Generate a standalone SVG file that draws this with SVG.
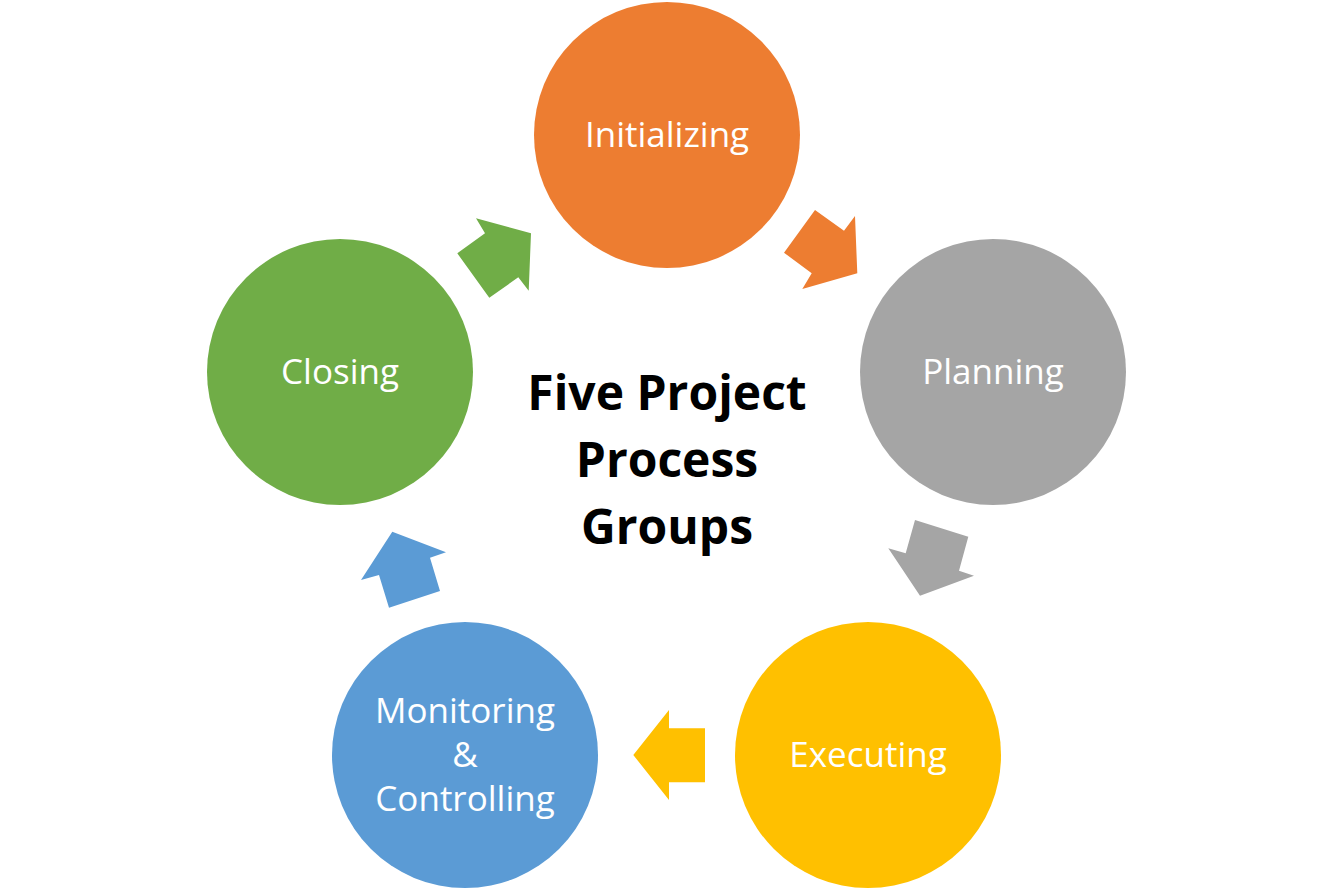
<svg xmlns="http://www.w3.org/2000/svg" width="1334" height="891" viewBox="0 0 1334 891">
<style>
.lbl{font-family:"Open Sans","Liberation Sans",sans-serif;font-size:35px;fill:#fff;text-anchor:middle}
.ttl{font-family:"Open Sans","Liberation Sans",sans-serif;font-size:48px;font-weight:bold;fill:#000;text-anchor:middle}
</style>
<rect width="1334" height="891" fill="#fff"/>
<g id="connectors">
<polygon fill="#ED7D31" points="815,210 844,230.7 855,216 857.3,273.3 802.3,289 811.7,273.3 784,252.7"/>
<polygon fill="#A5A5A5" points="915,520 968.3,536.7 959,570.7 974,575.7 920,595.7 888.3,548.3 905.7,553.3"/>
<polygon fill="#FFC000" points="669,710 669,728.3 705,728.3 705,782.3 669,782.3 669,800 633.3,755"/>
<polygon fill="#5B9BD5" points="392.3,531.7 446,552.3 430,557.7 440,591 389,607.7 379,575 361,580"/>
<polygon fill="#70AD47" points="476,218.3 531,233.3 528.7,290.7 518.3,277.3 489.3,297.7 457.3,253.3 485,233.3"/>
</g>
<g id="initializing">
<circle cx="667" cy="135" r="133" fill="#ED7D31"/>
<text class="lbl" x="667" y="147">Initializing</text>
</g>
<g id="planning">
<circle cx="993" cy="372" r="133" fill="#A5A5A5"/>
<text class="lbl" x="993" y="384">Planning</text>
</g>
<g id="executing">
<circle cx="868" cy="755" r="133" fill="#FFC000"/>
<text class="lbl" x="868" y="767">Executing</text>
</g>
<g id="monitoring">
<circle cx="465" cy="755" r="133" fill="#5B9BD5"/>
<text class="lbl" x="465" y="723">Monitoring</text>
<text class="lbl" x="465" y="767">&amp;</text>
<text class="lbl" x="465" y="811">Controlling</text>
</g>
<g id="closing">
<circle cx="340" cy="372" r="133" fill="#70AD47"/>
<text class="lbl" x="340" y="384">Closing</text>
</g>
<g id="title">
<text class="ttl" x="667" y="410">Five Project</text>
<text class="ttl" x="667" y="477">Process</text>
<text class="ttl" x="667" y="544">Groups</text>
</g>
</svg>
